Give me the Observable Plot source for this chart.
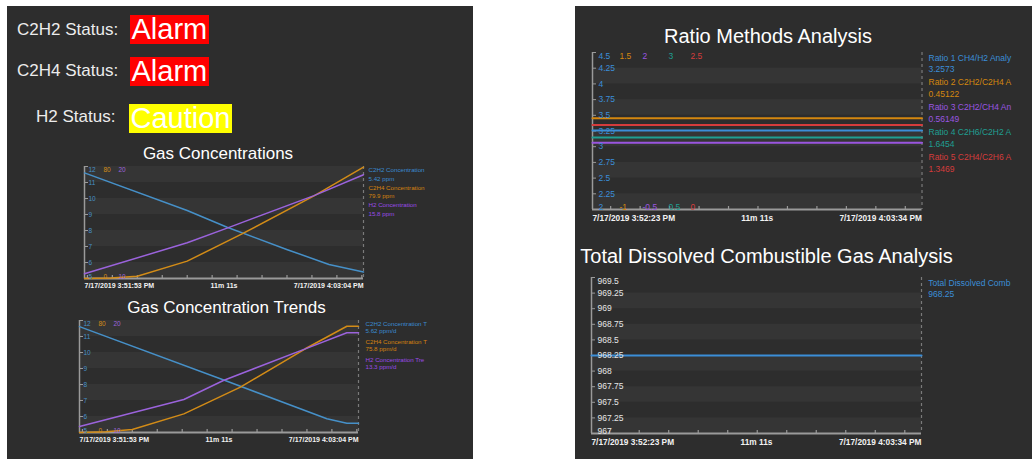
<!DOCTYPE html>
<html><head><meta charset="utf-8">
<script src="https://cdn.jsdelivr.net/npm/d3@7"></script>
<script src="https://cdn.jsdelivr.net/npm/@observablehq/plot@0.6"></script>
<style>
html,body{margin:0;padding:0;background:#fff;}
body{width:1032px;height:459px;overflow:hidden;position:relative;font-family:"Liberation Sans",Arial,Helvetica,sans-serif;}
.panel{position:absolute;background:#2d2d2d;}
.abs{position:absolute;white-space:nowrap;}
.lbl{color:#ececec;font-size:17px;line-height:1;transform:translateY(-50%);}
.badge{color:#fff;font-size:29px;line-height:29px;height:29px;padding:0 1.5px;}
.title{color:#fff;line-height:1;transform:translate(-50%,-50%);}
</style></head><body>
<div class="panel" style="left:7px;top:6px;width:466px;height:453px"></div>
<div class="panel" style="left:575px;top:6px;width:457px;height:453px"></div>
<div id="root"></div>
<script>
// ---------- Status ----------
const statusNames = ["C2H2 Status:", "C2H4 Status:", "H2 Status:"];
const statusValues = ["Alarm", "Alarm", "Caution"];
const statusColors = ["#ff0000", "#ff0000", "#ffff00"];

// ---------- Gas Concentrations (left, top) ----------
const gasStart = "2019-07-17T15:51:53Z", gasEnd = "2019-07-17T16:03:04Z";
const gasXLabels = ["7/17/2019 3:51:53 PM", "11m 11s", "7/17/2019 4:03:04 PM"];
const gasYTicks = [5, 6, 7, 8, 9, 10, 11, 12];
const gasAxisC2H2 = [5, 12], gasAxisC2H4 = [0, 80], gasAxisH2 = [10, 20];
const gasColors = ["#4690c8", "#d38c17", "#9b63dc"];

// elapsed seconds / values
const concT_C2H2 = [0, 247, 343, 488, 588, 671];
const concV_C2H2 = [11.6, 9.25, 8.2, 6.8, 5.88, 5.4];
const concT_C2H4 = [0, 63, 127, 247, 380, 552, 671];
const concV_C2H4 = [0, 0.3, 1.6, 12.4, 32, 59, 79.5];
const concT_H2 = [0, 247, 343, 552, 671];
const concV_H2 = [10.42, 13.19, 14.5, 17.4, 19.26];
const concLegendNames = ["C2H2 Concentration", "C2H4 Concentration", "H2 Concentration"];
const concLegendValues = ["5.42 ppm", "79.9 ppm", "15.8 ppm"];

// ---------- Gas Concentration Trends (left, bottom) ----------
const trendT_C2H2 = [0, 355, 595, 643, 671];
const trendV_C2H2 = [11.62, 8.2, 5.86, 5.58, 5.58];
const trendT_C2H4 = [0, 63, 127, 251, 387, 543, 643, 671];
const trendV_C2H4 = [0, 0.5, 2.1, 13.3, 32.4, 59.8, 75.9, 75.9];
const trendT_H2 = [0, 251, 346, 543, 643, 671];
const trendV_H2 = [10.54, 12.95, 14.64, 17.47, 18.9, 18.9];
const trendLegendNames = ["C2H2 Concentration T", "C2H4 Concentration T", "H2 Concentration Tre"];
const trendLegendValues = ["5.62 ppm/d", "75.8 ppm/d", "13.3 ppm/d"];

// ---------- Ratio Methods Analysis (right, top) ----------
const ratioStart = "2019-07-17T15:52:23Z", ratioEnd = "2019-07-17T16:03:34Z";
const ratioXLabels = ["7/17/2019 3:52:23 PM", "11m 11s", "7/17/2019 4:03:34 PM"];
const ratioYTicks = [2, 2.25, 2.5, 2.75, 3, 3.25, 3.5, 3.75, 4, 4.25, 4.5];
const ratioAxes = [[2, 4.5], [-1, 1.5], [-0.5, 2], [0.5, 3], [0, 2.5]];
const ratioNames = ["Ratio 1 CH4/H2 Analy", "Ratio 2 C2H2/C2H4 A", "Ratio 3 C2H2/CH4 An", "Ratio 4 C2H6/C2H2 A", "Ratio 5 C2H4/C2H6 A"];
const ratioValues = [3.2573, 0.45122, 0.56149, 1.6454, 1.3469];
const ratioLabels = ["3.2573", "0.45122", "0.56149", "1.6454", "1.3469"];
const ratioColors = ["#3b8ed8", "#d4870f", "#9a55e0", "#1f9f92", "#d53c3c"];

// ---------- Total Dissolved Combustible Gas (right, bottom) ----------
const tdcgYTicks = [967, 967.25, 967.5, 967.75, 968, 968.25, 968.5, 968.75, 969, 969.25, 969.5];
const tdcgNames = ["Total Dissolved Comb"];
const tdcgValues = [968.25];
const tdcgLabels = ["968.25"];
const tdcgColors = ["#3b8ed8"];

// ---------- styles ----------
const FONT = '"Liberation Sans", Arial, Helvetica, sans-serif';
const BAND = "#353535", AXIS = "#9a9a9a", XLBL = "#f2f2f2";
const root = document.getElementById("root");
const addS = (d, s) => new Date(d.getTime() + s * 1000);

function place(el, left, top) {
  const w = document.createElement("div");
  w.className = "abs";
  w.style.left = left + "px"; w.style.top = top + "px";
  w.appendChild(el); root.appendChild(w); return w;
}
function html(text, cls, left, top, extra) {
  const d = document.createElement("div");
  d.className = "abs " + cls; d.textContent = text;
  d.style.left = left + "px"; d.style.top = top + "px";
  Object.assign(d.style, extra || {});
  root.appendChild(d); return d;
}

function chart(cfg) {
  const {x0, x1, y0, y1} = cfg.frame;
  const mL = 14, mT = 10, mR = cfg.mR, mB = cfg.mB;
  const pw = x1 - x0, ph = y1 - y0;
  const start = new Date(cfg.start), end = new Date(cfg.end);
  const [lo, hi] = cfg.axes[0];
  const toP = (v, [a, b]) => lo + (v - a) / (b - a) * (hi - lo);
  const bands = [];
  for (let i = 0; i + 1 < cfg.yTicks.length; i += 2)
    bands.push({x1: start, x2: end, y1: cfg.yTicks[i], y2: cfg.yTicks[i + 1]});
  const minutes = d3.utcMinute.range(start, end).filter(d => d > start);
  const mids = cfg.yTicks.slice(1, -1);
  const marks = [
    Plot.rect(bands, {x1: "x1", x2: "x2", y1: "y1", y2: "y2", fill: BAND}),
    Plot.ruleX([end], {stroke: "#7a7a7a", strokeDasharray: "3,3", strokeWidth: 1.2}),
    Plot.tickX(minutes, {x: d => d, stroke: AXIS, strokeWidth: 1.2, insetTop: ph - 3}),
    Plot.tickY(cfg.yTicks.slice(1), {y: d => d, stroke: AXIS, strokeWidth: 1, insetRight: pw - 4}),
    Plot.ruleX([start], {stroke: AXIS, strokeWidth: 1.5}),
    Plot.ruleY([lo], {stroke: AXIS, strokeWidth: 1.8})
  ];
  cfg.series.forEach((s, k) => {
    const pts = s.t.map((t, j) => ({t: addS(start, t), v: toP(s.v[j], cfg.axes[k])}));
    marks.push(Plot.line(pts, {x: "t", y: "v", stroke: cfg.colors[k], strokeWidth: cfg.lw}));
  });
  const fs = cfg.yFont;
  marks.push(Plot.text(mids, {y: d => d, frameAnchor: "left", text: d => String(d), textAnchor: "start",
    dx: cfg.slots[0], fill: cfg.yColor, fontSize: fs, fontFamily: FONT}));
  cfg.axes.forEach((a, k) => {
    const col = k === 0 ? cfg.yColor : cfg.colors[k];
    marks.push(Plot.text([String(a[1])], {frameAnchor: "top-left", text: d => d, textAnchor: "start", lineAnchor: "top",
      dx: cfg.slots[k], dy: 0.5, fill: col, fontSize: fs, fontFamily: FONT}));
    marks.push(Plot.text([String(a[0])], {frameAnchor: "bottom-left", text: d => d, textAnchor: "start", lineAnchor: "bottom",
      dx: cfg.slots[k], dy: 0.5, fill: col, fontSize: fs, fontFamily: FONT}));
  });
  const xl = {text: d => d, fill: XLBL, fontSize: cfg.xFont, fontWeight: "bold", fontFamily: FONT, dy: cfg.xdy, lineAnchor: "middle"};
  marks.push(Plot.text([cfg.xLabels[0]], {...xl, frameAnchor: "bottom-left", textAnchor: "start"}));
  marks.push(Plot.text([cfg.xLabels[1]], {...xl, frameAnchor: "bottom", textAnchor: "middle"}));
  marks.push(Plot.text([cfg.xLabels[2]], {...xl, frameAnchor: "bottom-right", textAnchor: "end"}));
  cfg.legend.forEach((it, i) => {
    const base = {frameAnchor: "top-right", text: d => d, textAnchor: "start", lineAnchor: "middle",
      dx: cfg.legDx, fill: it.color, fontSize: cfg.legFont, fontFamily: FONT};
    marks.push(Plot.text([it.name], {...base, dy: cfg.legY0 + i * cfg.legStep}));
    marks.push(Plot.text([it.value], {...base, dy: cfg.legY0 + i * cfg.legStep + cfg.legGap}));
  });
  const svg = Plot.plot({
    width: mL + pw + mR, height: mT + ph + mB,
    marginLeft: mL, marginRight: mR, marginTop: mT, marginBottom: mB,
    x: {type: "utc", domain: [start, end], axis: null},
    y: {domain: [lo, hi], axis: null},
    style: {background: "transparent", overflow: "visible", fontFamily: FONT},
    marks
  });
  place(svg, x0 - mL, y0 - mT);
}

// ---------- status block ----------
const statusPos = [[17, 28.5, 130, 15], [17, 70, 130, 57], [36, 115.5, 129, 103.5]];
statusNames.forEach((n, i) => {
  const [lx, ly, bx, by] = statusPos[i];
  html(n, "lbl", lx, ly);
  html(statusValues[i], "badge", bx, by, {background: statusColors[i]});
});

// ---------- titles ----------
html("Gas Concentrations", "title", 218, 152.5, {fontSize: "17px"});
html("Gas Concentration Trends", "title", 226.5, 306.5, {fontSize: "17px"});
html("Ratio Methods Analysis", "title", 768, 36, {fontSize: "20px"});
html("Total Dissolved Combustible Gas Analysis", "title", 766.5, 256, {fontSize: "20px"});

const gasAxes = [gasAxisC2H2, gasAxisC2H4, gasAxisH2];
chart({
  frame: {x0: 84, x1: 363, y0: 166, y1: 278}, mR: 80, mB: 16,
  start: gasStart, end: gasEnd, xLabels: gasXLabels, yTicks: gasYTicks, axes: gasAxes,
  series: [{t: concT_C2H2, v: concV_C2H2}, {t: concT_C2H4, v: concV_C2H4}, {t: concT_H2, v: concV_H2}],
  colors: gasColors, lw: 1.5, yColor: gasColors[0], yFont: 6.5, slots: [4, 19, 34],
  xFont: 7, xdy: 7.5,
  legend: concLegendNames.map((n, i) => ({name: n, value: concLegendValues[i], color: ["#3b8bd0", "#d6820f", "#9a4be6"][i]})),
  legDx: 5, legFont: 6.2, legY0: 4, legStep: 17.2, legGap: 8.7
});
chart({
  frame: {x0: 79, x1: 358, y0: 320, y1: 432}, mR: 80, mB: 16,
  start: gasStart, end: gasEnd, xLabels: gasXLabels, yTicks: gasYTicks, axes: gasAxes,
  series: [{t: trendT_C2H2, v: trendV_C2H2}, {t: trendT_C2H4, v: trendV_C2H4}, {t: trendT_H2, v: trendV_H2}],
  colors: gasColors, lw: 1.5, yColor: gasColors[0], yFont: 6.5, slots: [4, 19, 34],
  xFont: 7, xdy: 7.3,
  legend: trendLegendNames.map((n, i) => ({name: n, value: trendLegendValues[i], color: ["#3b8bd0", "#d6820f", "#9a4be6"][i]})),
  legDx: 7, legFont: 6.2, legY0: 3.3, legStep: 18, legGap: 7.6
});
chart({
  frame: {x0: 592, x1: 921.5, y0: 52, y1: 209}, mR: 105, mB: 16,
  start: ratioStart, end: ratioEnd, xLabels: ratioXLabels, yTicks: ratioYTicks, axes: ratioAxes,
  series: ratioValues.map(v => ({t: [0, 671], v: [v, v]})),
  colors: ratioColors, lw: 2, yColor: ratioColors[0], yFont: 8.5, slots: [6, 27, 50, 76, 98],
  xFont: 8.3, xdy: 8.7,
  legend: ratioNames.map((n, i) => ({name: n, value: ratioLabels[i], color: ratioColors[i]})),
  legDx: 6.5, legFont: 8.5, legY0: 5.3, legStep: 24.85, legGap: 11.7
});
chart({
  frame: {x0: 591, x1: 921, y0: 277, y1: 433}, mR: 105, mB: 16,
  start: ratioStart, end: ratioEnd, xLabels: ratioXLabels, yTicks: tdcgYTicks, axes: [[967, 969.5]],
  series: tdcgValues.map(v => ({t: [0, 671], v: [v, v]})),
  colors: tdcgColors, lw: 2, yColor: "#e6e6e6", yFont: 8.5, slots: [6],
  xFont: 8.3, xdy: 8.7,
  legend: tdcgNames.map((n, i) => ({name: n, value: tdcgLabels[i], color: tdcgColors[i]})),
  legDx: 6.7, legFont: 8.5, legY0: 5.3, legStep: 24.85, legGap: 11.7
});
</script>
</body></html>
